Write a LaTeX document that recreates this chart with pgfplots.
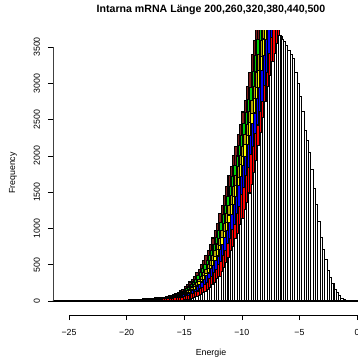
\documentclass[border=0pt]{standalone}
\usepackage{pgfplots}
\pgfplotsset{compat=1.18}
\usepackage{fontspec}
\setmainfont{Liberation Sans}
\definecolor{cMaroon}{HTML}{7E1C1C}
\definecolor{cGreen}{HTML}{00D000}
\definecolor{cOlive}{HTML}{B4A600}
\definecolor{cYellow}{HTML}{FFFF00}
\definecolor{cBlue}{HTML}{0000FF}
\definecolor{cRed}{HTML}{FF0000}
\begin{document}
\begin{tikzpicture}
\begin{axis}[
  scale only axis, width=316pt, height=284pt,
  xmin=-26.39, xmax=1.04, ymin=-193, ymax=3720,
  axis lines*=left, axis line style={draw=none},
  clip mode=individual,
  xtick={-25,-20,-15,-10,-5,0},
  xticklabels={−25,−20,−15,−10,−5,0},
  ytick={0,500,1000,1500,2000,2500,3000,3500},
  yticklabels={0,500,1000,1500,2000,2500,3000,3500},
  tick align=outside, major tick length=5pt,
  tick style={black, line width=0.6pt},
  ticklabel style={font=\fontsize{8.8}{10}\selectfont},
  xticklabel style={anchor=base, yshift=-15pt},
  yticklabel style={rotate=90, anchor=base, yshift=8pt},
  title={Intarna mRNA Länge 200,260,320,380,440,500},
  title style={font=\bfseries\fontsize{10.6}{12}\selectfont, at={(axis description cs:0.5,1)}, anchor=center, yshift=15pt},
  xlabel={Energie}, ylabel={Frequency},
  label style={font=\fontsize{8.8}{10}\selectfont},
  x label style={at={(axis description cs:0.5,0)}, anchor=center, yshift=-38pt},
  y label style={at={(axis description cs:0,0.5)}, anchor=center, yshift=40pt},
  every axis plot/.append style={ybar, bar width=0.2, bar shift=0pt, draw=black, line width=1.05pt},
]
% darkred
\addplot[fill=cMaroon] coordinates {
(-20.5,8) (-20.3,10) (-20.1,11) (-19.9,13) (-19.7,14) (-19.5,17) (-19.3,18) (-19.1,19) (-18.9,22) (-18.7,24) (-18.5,28) (-18.3,29) (-18.1,33) (-17.9,35) (-17.7,39) (-17.5,41) (-17.3,43) (-17.1,45) (-16.9,48) (-16.7,53) (-16.5,63) (-16.3,71) (-16.1,81) (-15.9,96) (-15.7,108) (-15.5,120) (-15.3,142) (-15.1,164) (-14.9,196) (-14.7,222) (-14.5,262) (-14.3,302) (-14.1,342) (-13.9,392) (-13.7,438) (-13.5,498) (-13.3,552) (-13.1,628) (-12.9,698) (-12.7,784) (-12.5,868) (-12.3,976) (-12.1,1070) (-11.9,1204) (-11.7,1316) (-11.5,1456) (-11.3,1576) (-11.1,1726) (-10.9,1854) (-10.7,2006) (-10.5,2134) (-10.3,2296) (-10.1,2436) (-9.9,2604) (-9.7,2766) (-9.5,2956) (-9.3,3154) (-9.1,3396) (-8.9,3586) (-8.7,3736) (-8.5,3794) (-8.3,3722) (-8.1,3636) (-7.9,3524) (-7.7,3356) (-7.5,3186) (-7.3,2964) (-7.1,2726) (-6.9,2476) (-6.7,2236) (-6.5,1986) (-6.3,1764) (-6.1,1536) (-5.9,1336)
};
% green
\addplot[fill=cGreen] coordinates {
(-20.2,9) (-20.0,9) (-19.8,12) (-19.6,12) (-19.4,15) (-19.2,16) (-19.0,18) (-18.8,21) (-18.6,21) (-18.4,24) (-18.2,27) (-18.0,30) (-17.8,31) (-17.6,36) (-17.4,38) (-17.2,39) (-17.0,42) (-16.8,45) (-16.6,47) (-16.4,55) (-16.2,62) (-16.0,69) (-15.8,84) (-15.6,94) (-15.4,107) (-15.2,124) (-15.0,138) (-14.8,167) (-14.6,193) (-14.4,227) (-14.2,262) (-14.0,298) (-13.8,347) (-13.6,387) (-13.4,442) (-13.2,497) (-13.0,558) (-12.8,622) (-12.6,702) (-12.4,776) (-12.2,872) (-12.0,968) (-11.8,1078) (-11.6,1196) (-11.4,1322) (-11.2,1446) (-11.0,1584) (-10.8,1716) (-10.6,1862) (-10.4,1998) (-10.2,2146) (-10.0,2284) (-9.8,2446) (-9.6,2594) (-9.4,2778) (-9.2,2944) (-9.0,3168) (-8.8,3382) (-8.6,3600) (-8.4,3740) (-8.2,3800) (-8.0,3716) (-7.8,3648) (-7.6,3512) (-7.4,3370) (-7.2,3172) (-7.0,2968) (-6.8,2712) (-6.6,2488) (-6.4,2222) (-6.2,2000) (-6.0,1748) (-5.8,1546) (-5.6,1324)
};
% olive
\addplot[fill=cOlive] coordinates {
(-19.92,8) (-19.72,8) (-19.52,11) (-19.32,13) (-19.12,13) (-18.92,16) (-18.72,19) (-18.52,19) (-18.32,22) (-18.12,25) (-17.92,26) (-17.72,29) (-17.52,31) (-17.32,36) (-17.12,37) (-16.92,41) (-16.72,41) (-16.52,45) (-16.32,47) (-16.12,53) (-15.92,61) (-15.72,71) (-15.52,80) (-15.32,96) (-15.12,110) (-14.92,121) (-14.72,141) (-14.52,163) (-14.32,193) (-14.12,228) (-13.92,258) (-13.72,302) (-13.52,342) (-13.32,393) (-13.12,437) (-12.92,498) (-12.72,552) (-12.52,628) (-12.32,697) (-12.12,785) (-11.92,865) (-11.72,975) (-11.52,1070) (-11.32,1205) (-11.12,1315) (-10.92,1455) (-10.72,1575) (-10.52,1725) (-10.32,1855) (-10.12,2005) (-9.92,2135) (-9.72,2295) (-9.52,2435) (-9.32,2605) (-9.12,2765) (-8.92,2955) (-8.72,3155) (-8.52,3395) (-8.32,3585) (-8.12,3735) (-7.92,3785) (-7.72,3725) (-7.52,3635) (-7.32,3525) (-7.12,3365) (-6.92,3185) (-6.72,2965) (-6.52,2715) (-6.32,2485) (-6.12,2225) (-5.92,1995) (-5.72,1755) (-5.52,1545) (-5.32,1325)
};
% yellow
\addplot[fill=cYellow] coordinates {
(-19.72,7) (-19.52,9) (-19.32,12) (-19.12,11) (-18.92,14) (-18.72,17) (-18.52,17) (-18.32,20) (-18.12,23) (-17.92,23) (-17.72,28) (-17.52,28) (-17.32,33) (-17.12,34) (-16.92,37) (-16.72,39) (-16.52,43) (-16.32,43) (-16.12,50) (-15.92,52) (-15.72,64) (-15.52,68) (-15.32,84) (-15.12,92) (-14.92,110) (-14.72,118) (-14.52,143) (-14.32,160) (-14.12,198) (-13.92,218) (-13.72,266) (-13.52,293) (-13.32,350) (-13.12,382) (-12.92,448) (-12.72,486) (-12.52,562) (-12.32,615) (-12.12,710) (-11.92,768) (-11.72,880) (-11.52,960) (-11.32,1085) (-11.12,1185) (-10.92,1330) (-10.72,1435) (-10.52,1595) (-10.32,1705) (-10.12,1875) (-9.92,1985) (-9.72,2155) (-9.52,2275) (-9.32,2455) (-9.12,2585) (-8.92,2790) (-8.72,2935) (-8.52,3175) (-8.32,3375) (-8.12,3610) (-7.92,3745) (-7.72,3795) (-7.52,3735) (-7.32,3645) (-7.12,3515) (-6.92,3355) (-6.72,3175) (-6.52,2955) (-6.32,2725) (-6.12,2475) (-5.92,2235) (-5.72,1985) (-5.52,1765) (-5.32,1535) (-5.12,1335)
};
% blue
\addplot[fill=cBlue] coordinates {
(-19.45,8) (-19.25,10) (-19.05,11) (-18.85,12) (-18.65,15) (-18.45,16) (-18.25,18) (-18.05,21) (-17.85,22) (-17.65,25) (-17.45,26) (-17.25,28) (-17.05,33) (-16.85,34) (-16.65,39) (-16.45,40) (-16.25,43) (-16.05,45) (-15.85,49) (-15.65,53) (-15.45,63) (-15.25,69) (-15.05,83) (-14.85,93) (-14.65,110) (-14.45,120) (-14.25,142) (-14.05,162) (-13.85,197) (-13.65,222) (-13.45,262) (-13.25,296) (-13.05,348) (-12.85,386) (-12.65,444) (-12.45,490) (-12.25,558) (-12.05,620) (-11.85,705) (-11.65,775) (-11.45,875) (-11.25,965) (-11.05,1080) (-10.85,1190) (-10.65,1325) (-10.45,1440) (-10.25,1590) (-10.05,1710) (-9.85,1870) (-9.65,1990) (-9.45,2150) (-9.25,2280) (-9.05,2450) (-8.85,2590) (-8.65,2785) (-8.45,2940) (-8.25,3170) (-8.05,3380) (-7.85,3600) (-7.65,3750) (-7.45,3800) (-7.25,3740) (-7.05,3640) (-6.85,3520) (-6.65,3350) (-6.45,3180) (-6.25,2950) (-6.05,2730) (-5.85,2470) (-5.65,2240) (-5.45,1980) (-5.25,1770) (-5.05,1530) (-4.85,1340)
};
% red
\addplot[fill=cRed] coordinates {
(-20.0,3) (-19.8,4) (-19.6,4) (-19.4,6) (-19.2,6) (-19.0,8) (-18.8,9) (-18.6,10) (-18.4,13) (-18.2,14) (-18.0,15) (-17.8,19) (-17.6,19) (-17.4,23) (-17.2,24) (-17.0,26) (-16.8,30) (-16.6,31) (-16.4,36) (-16.2,37) (-16.0,41) (-15.8,42) (-15.6,46) (-15.4,47) (-15.2,55) (-15.0,60) (-14.8,72) (-14.6,80) (-14.4,97) (-14.2,105) (-14.0,125) (-13.8,138) (-13.6,168) (-13.4,190) (-13.2,230) (-13.0,255) (-12.8,305) (-12.6,340) (-12.4,395) (-12.2,432) (-12.0,502) (-11.8,548) (-11.6,632) (-11.4,690) (-11.2,790) (-11.0,860) (-10.8,982) (-10.6,1060) (-10.4,1212) (-10.2,1305) (-10.0,1462) (-9.8,1570) (-9.6,1735) (-9.4,1845) (-9.2,2015) (-9.0,2125) (-8.8,2305) (-8.6,2425) (-8.4,2615) (-8.2,2755) (-8.0,2965) (-7.8,3145) (-7.6,3405) (-7.4,3625) (-7.2,3760) (-7.0,3805) (-6.8,3735) (-6.6,3650) (-6.4,3515) (-6.2,3365) (-6.0,3170) (-5.8,2970) (-5.6,2710) (-5.4,2490) (-5.2,2220) (-5.0,2000) (-4.8,1750) (-4.6,1550) (-4.4,1320) (-4.2,1150) (-4.0,950) (-3.8,810) (-3.6,640) (-3.4,525) (-3.2,405) (-3.0,315) (-2.8,225) (-2.6,172) (-2.4,118) (-2.2,86) (-2.0,54) (-1.8,36) (-1.6,19) (-1.4,12) (-1.2,6) (-1.0,3) (-0.8,1)
};
% white (drawn last)
\addplot[fill=white] coordinates {
(-26.3,1) (-26.1,1) (-25.9,1) (-25.7,1) (-25.5,1) (-25.3,1) (-25.1,1) (-24.9,1) (-24.7,1) (-24.5,1) (-24.3,1) (-24.1,1) (-23.9,1) (-23.7,1) (-23.5,1) (-23.3,1) (-23.1,1) (-22.9,1) (-22.7,1) (-22.5,2) (-22.3,1) (-22.1,1) (-21.9,2) (-21.7,2) (-21.5,1) (-21.3,2) (-21.1,3) (-20.9,2) (-20.7,3) (-20.5,3) (-20.3,4) (-20.1,3) (-19.9,4) (-19.7,5) (-19.5,4) (-19.3,5) (-19.1,6) (-18.9,5) (-18.7,6) (-18.5,7) (-18.3,6) (-18.1,7) (-17.9,8) (-17.7,7) (-17.5,8) (-17.3,9) (-17.1,8) (-16.9,9) (-16.7,10) (-16.5,9) (-16.3,10) (-16.1,11) (-15.9,10) (-15.7,11) (-15.5,10) (-15.3,11) (-15.1,12) (-14.9,15) (-14.7,19) (-14.5,27) (-14.3,33) (-14.1,46) (-13.9,56) (-13.7,74) (-13.5,88) (-13.3,112) (-13.1,132) (-12.9,163) (-12.7,186) (-12.5,224) (-12.3,250) (-12.1,304) (-11.9,340) (-11.7,405) (-11.5,455) (-11.3,536) (-11.1,604) (-10.9,696) (-10.7,754) (-10.5,858) (-10.3,932) (-10.1,1048) (-9.9,1142) (-9.7,1258) (-9.5,1362) (-9.3,1488) (-9.1,1602) (-8.9,1768) (-8.7,1942) (-8.5,2138) (-8.3,2322) (-8.1,2528) (-7.9,2752) (-7.7,2958) (-7.5,3104) (-7.3,3296) (-7.1,3414) (-6.9,3546) (-6.7,3652) (-6.5,3604) (-6.3,3576) (-6.1,3514) (-5.9,3456) (-5.7,3394) (-5.5,3336) (-5.3,3144) (-5.1,2996) (-4.9,2824) (-4.7,2616) (-4.5,2344) (-4.3,2206) (-4.1,2044) (-3.9,1806) (-3.7,1554) (-3.5,1336) (-3.3,1094) (-3.1,876) (-2.9,714) (-2.7,576) (-2.5,416) (-2.3,324) (-2.1,246) (-1.9,164) (-1.7,118) (-1.5,77) (-1.3,39) (-1.1,19) (-0.9,9) (-0.7,5) (-0.5,3) (-0.3,1) (-0.1,1)
};
\draw[line width=0.7pt] (axis cs:-25,-193) -- (axis cs:0,-193);
\draw[line width=0.7pt, black!75] (axis cs:-26.39,0) -- (axis cs:-26.39,3500);
\end{axis}
\pgfresetboundingbox
\useasboundingbox ([xshift=-53pt,yshift=-44pt]current axis.south west) rectangle ([xshift=305pt,yshift=31pt]current axis.north west);
\end{tikzpicture}
\end{document}
